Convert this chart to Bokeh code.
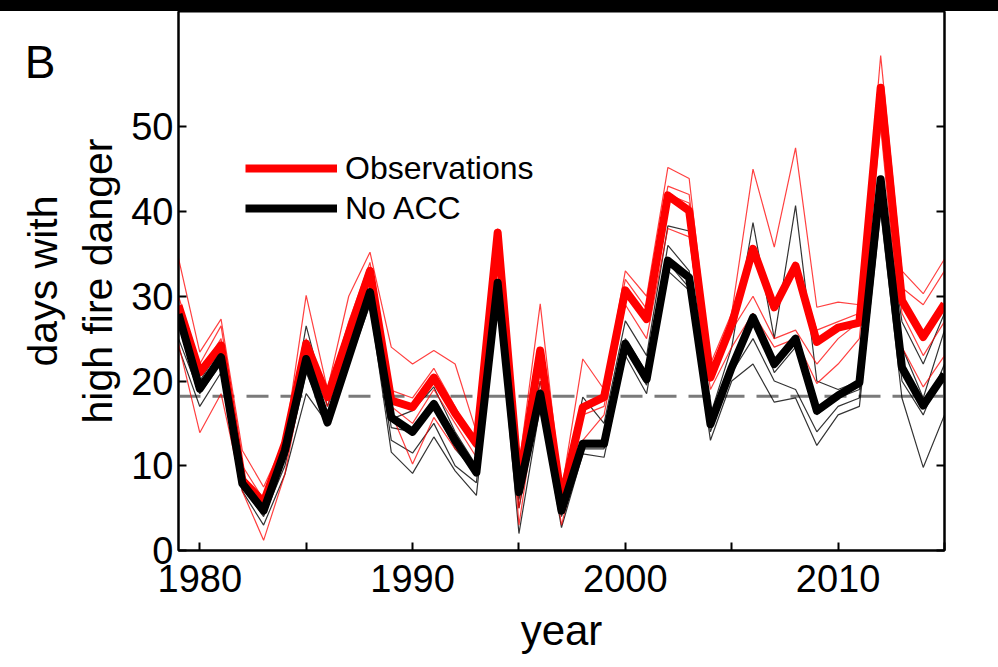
from bokeh.plotting import figure
from bokeh.layouts import column
from bokeh.models import Range1d, LinearAxis, FixedTicker, Span, Legend, LegendItem, Div
from bokeh.embed import file_html
from bokeh.resources import INLINE

years = [1979, 1980, 1981, 1982, 1983, 1984, 1985, 1986, 1987, 1988,
         1989, 1990, 1991, 1992, 1993, 1994, 1995, 1996, 1997, 1998,
         1999, 2000, 2001, 2002, 2003, 2004, 2005, 2006, 2007, 2008,
         2009, 2010, 2011, 2012, 2013, 2014, 2015]

observations = [28.9, 21.0, 24.2, 8.3, 5.7, 12.6, 24.4, 18.1, 25.6, 33.0,
                17.7, 16.9, 20.4, 16.2, 12.6, 37.5, 7.9, 23.6, 5.9, 16.9,
                18.1, 30.7, 27.3, 41.9, 40.1, 20.4, 26.7, 35.6, 28.7, 33.6,
                24.6, 26.3, 26.9, 54.6, 29.5, 25.2, 29.1]

no_acc = [27.9, 19.1, 22.8, 7.9, 4.7, 11.8, 22.6, 15.1, 22.8, 30.5,
          15.7, 14.0, 17.3, 13.0, 9.2, 31.6, 6.9, 18.5, 4.7, 12.6,
          12.6, 24.4, 20.2, 34.2, 32.2, 14.9, 21.6, 27.5, 22.0, 25.0,
          16.5, 18.3, 19.8, 43.8, 21.6, 17.1, 20.8]

obs_thin_a = [34.5, 23.4, 27.3, 11.8, 7.5, 13, 30.1, 19, 30, 35.2,
              24.0, 22.0, 23.6, 22.0, 14, 38, 10, 29.1, 7, 22.6,
              19, 33.0, 30, 45.2, 43.9, 22, 28, 45.0, 35.8, 47.5,
              28.7, 29.3, 29, 58.4, 33, 30.3, 34.4]
obs_thin_b = [30, 22, 26.5, 10, 6, 12, 25, 18.5, 27, 34,
              18.9, 18, 21.5, 17, 12, 37, 8, 24, 6, 17,
              18.5, 32, 28.5, 43, 42, 21, 27, 36, 29, 34,
              26, 27, 28, 55, 31, 29, 33]
obs_thin_c = [27, 21, 25, 8, 5, 11, 24, 17, 26, 33,
              17, 15, 19, 15, 11, 37, 5, 22, 5, 16,
              17, 31, 27, 42, 41, 20, 26, 30, 25, 26,
              22, 25, 27, 53, 28, 23, 27]
obs_thin_d = [24.4, 13.9, 18.5, 7, 1.2, 9, 22, 16, 25, 32,
              16.2, 10.2, 15.7, 12, 10, 36, 3, 20, 3, 13,
              16, 29, 25, 38, 37, 19, 24, 28, 24, 25,
              19.7, 22, 25, 50, 24, 19.3, 23]

noacc_thin_a = [28, 20, 24, 9, 5.5, 12, 26.5, 17, 24, 31,
                15.5, 16.5, 19.3, 14, 10, 32, 8, 20, 6, 18.1,
                15, 27.1, 23, 38.3, 37.7, 16, 24, 38.7, 25, 40.7,
                20, 19, 20, 44, 27, 22, 28]
noacc_thin_b = [27, 19, 23, 8, 4.5, 11, 23, 16, 23, 30.5,
                14.5, 14, 17, 12, 9, 31.5, 6, 19, 5, 13,
                13, 25, 21, 36, 33, 15, 22, 28, 21, 24,
                16, 18, 19, 43, 24, 18, 26]
noacc_thin_c = [25, 18.5, 22, 7.5, 4, 10, 21, 15, 22, 30,
                13, 11.5, 15, 10, 8, 31, 5, 18, 4, 12,
                12, 24, 19.5, 34, 31, 14, 21, 25, 20, 19,
                14, 17, 18, 42, 20, 16, 22]
noacc_thin_d = [24, 17, 21, 7, 3, 9, 18.5, 15, 22, 29,
                11.6, 9.1, 13.4, 9.4, 6.5, 30, 2.0, 17, 2.7, 11.4,
                11, 23, 18.5, 33, 30.7, 13, 20, 22, 17.5, 18,
                12.4, 16, 17, 40, 18, 9.8, 16]

threshold = 18.2
x_major_ticks = [1980, 1990, 2000, 2010]
x_minor_ticks = [1985, 1995, 2005, 2015]
y_ticks = [0, 10, 20, 30, 40, 50]
panel_letter = "B"
panel_letter_y = 57.6

FONT = "Liberation Sans"

fig = figure(width=990, height=655, output_backend="svg", toolbar_location=None,
             x_range=Range1d(1979, 2015), y_range=Range1d(0, 63.6),
             min_border_left=178, min_border_right=46, min_border_top=0,
             min_border_bottom=116)
fig.xgrid.visible = False
fig.ygrid.visible = False
fig.outline_line_color = "black"
fig.outline_line_width = 2

fig.add_layout(Span(location=threshold, dimension="width", line_color="#7a7a7a",
                    line_width=3, line_dash="22 12", level="underlay"))

for ys in [noacc_thin_a, noacc_thin_b, noacc_thin_c, noacc_thin_d]:
    fig.line(years, ys, line_color="black", line_width=1.2, line_alpha=0.8)
for ys in [obs_thin_a, obs_thin_b, obs_thin_c, obs_thin_d]:
    fig.line(years, ys, line_color="#ff0000", line_width=1.2, line_alpha=0.75)

r_obs = fig.line(years, observations, line_color="#ff0000", line_width=8, line_join="round")
r_noacc = fig.line(years, no_acc, line_color="black", line_width=8, line_join="round")

for ax in [fig.xaxis[0], fig.yaxis[0]]:
    ax.axis_line_width = 2
    ax.major_tick_out = 0
    ax.major_tick_in = 8
    ax.major_tick_line_width = 2
    ax.minor_tick_out = 0
    ax.minor_tick_in = 8
    ax.minor_tick_line_width = 2
    ax.major_label_text_font = FONT
    ax.major_label_text_font_size = "38px"
    ax.major_label_text_color = "black"
    ax.axis_label_text_font = FONT
    ax.axis_label_text_font_size = "41px"
    ax.axis_label_text_font_style = "normal"
    ax.axis_label_text_color = "black"

fig.xaxis[0].ticker = FixedTicker(ticks=x_major_ticks, minor_ticks=x_minor_ticks)
fig.xaxis[0].major_label_standoff = 14
fig.xaxis[0].axis_label = "year"
fig.xaxis[0].axis_label_text_font_size = "42px"
fig.xaxis[0].axis_label_standoff = 12

fig.yaxis[0].ticker = FixedTicker(ticks=y_ticks, minor_ticks=[])
fig.yaxis[0].major_label_standoff = 5
fig.yaxis[0].axis_label = "days with\nhigh fire danger"
fig.yaxis[0].axis_label_standoff = 7

# panel letter, carried by an extra (invisible) left axis
letter_axis = LinearAxis(ticker=FixedTicker(ticks=[panel_letter_y], minor_ticks=[]),
                         major_label_overrides={panel_letter_y: panel_letter},
                         axis_line_color=None, major_tick_line_color=None,
                         minor_tick_line_color=None, major_label_standoff=-44,
                         major_label_text_font=FONT, major_label_text_font_size="46px",
                         major_label_text_color="black")
fig.add_layout(letter_axis, "left")

right = LinearAxis(ticker=FixedTicker(ticks=[], minor_ticks=y_ticks),
                   major_tick_out=0, major_tick_in=0, minor_tick_out=0, minor_tick_in=8,
                   minor_tick_line_width=2, axis_line_width=2)
fig.add_layout(right, "right")

legend = Legend(items=[LegendItem(label="Observations", renderers=[r_obs]),
                       LegendItem(label="No ACC", renderers=[r_noacc])],
                location=(67, 322), glyph_width=92, glyph_height=40, label_height=40,
                label_standoff=8, spacing=0, padding=0, margin=0,
                border_line_color=None, background_fill_alpha=0,
                label_text_font=FONT, label_text_font_size="32px",
                label_text_color="black")
fig.add_layout(legend, "center")

band = Div(text="", width=998, height=11, margin=0, styles={"background-color": "black"})
p = column(band, fig, spacing=0)

open("out.html", "w").write(file_html(p, INLINE))
